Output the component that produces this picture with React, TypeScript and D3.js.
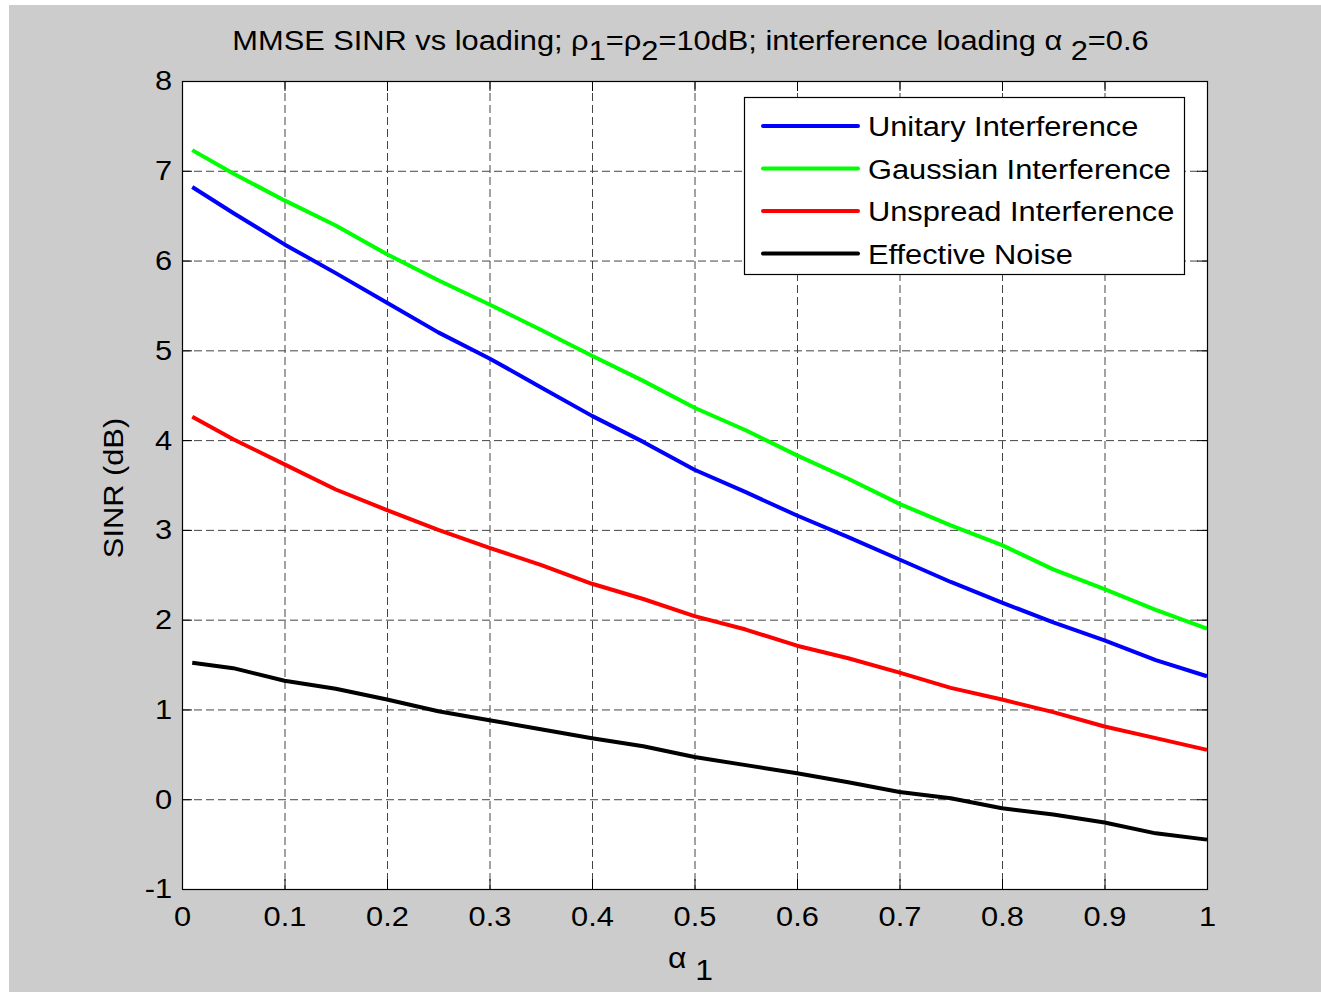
import React, { useEffect, useRef } from 'react';
import * as d3 from 'd3';

// alpha_1 sample points and SINR (dB)
const alpha = [0.01, 0.05, 0.1, 0.15, 0.2, 0.25, 0.3, 0.35, 0.4, 0.45, 0.5, 0.55, 0.6, 0.65, 0.7, 0.75, 0.8, 0.85, 0.9, 0.95, 1.0];
const unitary = [6.82, 6.53, 6.18, 5.86, 5.53, 5.2, 4.91, 4.59, 4.27, 3.98, 3.67, 3.42, 3.16, 2.92, 2.67, 2.42, 2.19, 1.97, 1.77, 1.55, 1.37];
const gaussian = [7.23, 6.97, 6.67, 6.39, 6.07, 5.78, 5.51, 5.23, 4.94, 4.66, 4.36, 4.11, 3.83, 3.57, 3.29, 3.05, 2.83, 2.56, 2.34, 2.11, 1.9];
const unspread = [4.26, 4.01, 3.73, 3.45, 3.22, 3.0, 2.8, 2.61, 2.4, 2.23, 2.04, 1.89, 1.71, 1.57, 1.41, 1.24, 1.11, 0.97, 0.81, 0.68, 0.55];
const noise = [1.52, 1.46, 1.32, 1.23, 1.11, 0.98, 0.88, 0.78, 0.68, 0.59, 0.47, 0.38, 0.29, 0.19, 0.08, 0.01, -0.1, -0.17, -0.26, -0.38, -0.45];

const seriesNames = ['Unitary Interference', 'Gaussian Interference', 'Unspread Interference', 'Effective Noise'];
const seriesColors = ['#0000ff', '#00ff00', '#ff0000', '#000000'];
const seriesValues = [unitary, gaussian, unspread, noise];

const xTicks = [0, 0.1, 0.2, 0.3, 0.4, 0.5, 0.6, 0.7, 0.8, 0.9, 1];
const yTicks = [-1, 0, 1, 2, 3, 4, 5, 6, 7, 8];

const FONT = '"Liberation Sans", Arial, Helvetica, sans-serif';
const SX = 1.1; // the original figure is a bit wider than tall, text included

const Chart = () => {
  const ref = useRef<SVGSVGElement>(null);

  useEffect(() => {
    const W = 1321;
    const H = 993;
    const margin = { top: 81, right: 114, bottom: 104, left: 182 };
    const width = W - margin.left - margin.right;
    const height = H - margin.top - margin.bottom;

    const svg = d3.select(ref.current);
    svg.selectAll('*').remove();

    // figure background
    svg.append('rect').attr('x', 9).attr('y', 5).attr('width', W - 9).attr('height', H - 6).attr('fill', '#cccccc');

    const x = d3.scaleLinear().domain([0, 1]).range([0, width]);
    const y = d3.scaleLinear().domain([-1, 8]).range([height, 0]);

    const g = svg.append('g').attr('transform', `translate(${margin.left},${margin.top})`);

    g.append('rect').attr('width', width).attr('height', height).attr('fill', '#ffffff');

    // grid
    g.append('g')
      .selectAll('line')
      .data(xTicks.slice(1, -1))
      .join('line')
      .attr('x1', d => x(d) + 0.5).attr('x2', d => x(d) + 0.5)
      .attr('y1', 0).attr('y2', height)
      .attr('stroke', '#444').attr('stroke-width', 1).attr('stroke-dasharray', '8,4');
    g.append('g')
      .selectAll('line')
      .data(yTicks.slice(1, -1))
      .join('line')
      .attr('y1', d => y(d) + 0.5).attr('y2', d => y(d) + 0.5)
      .attr('x1', 0).attr('x2', width)
      .attr('stroke', '#444').attr('stroke-width', 1).attr('stroke-dasharray', '8,4');

    // series
    const line = d3.line<number>().x((d, i) => x(alpha[i])).y(d => y(d));
    seriesValues.forEach((vals, i) => {
      g.append('path')
        .datum(vals)
        .attr('fill', 'none')
        .attr('stroke', seriesColors[i])
        .attr('stroke-width', 4)
        .attr('stroke-linejoin', 'round')
        .attr('d', line);
    });

    // axes box and ticks
    g.append('rect').attr('x', 0.5).attr('y', 0.5).attr('width', width).attr('height', height)
      .attr('fill', 'none').attr('stroke', '#000').attr('stroke-width', 1.2);

    const xAxis = g.append('g').attr('transform', `translate(0,${height})`)
      .call(d3.axisBottom(x).tickValues(xTicks).tickSize(-10).tickPadding(17).tickFormat(d => `${d}`));
    const yAxis = g.append('g')
      .call(d3.axisLeft(y).tickValues(yTicks).tickSize(-10).tickPadding(9).tickFormat(d => `${d}`));
    [xAxis, yAxis].forEach(a => {
      a.select('.domain').remove();
      a.selectAll('line').attr('stroke', '#000');
      a.selectAll('text').attr('font-family', FONT).attr('font-size', 28).attr('fill', '#000')
        .attr('transform', `scale(${SX},1)`);
    });
    g.append('g').attr('transform', `translate(${width},0)`)
      .call(d3.axisRight(y).tickValues(yTicks).tickSize(-10).tickFormat(() => ''))
      .call(a => a.select('.domain').remove())
      .selectAll('line').attr('stroke', '#000');
    g.append('g')
      .call(d3.axisTop(x).tickValues(xTicks).tickSize(-10).tickFormat(() => ''))
      .call(a => a.select('.domain').remove())
      .selectAll('line').attr('stroke', '#000');

    // title
    const title = svg.append('text')
      .attr('transform', `translate(${margin.left + width / 2 - 4},50) scale(${SX},1)`)
      .attr('text-anchor', 'middle')
      .attr('font-family', FONT).attr('font-size', 28).attr('fill', '#000');
    const parts: [string, number][] = [
      ['MMSE SINR vs loading; \u03c1', 0], ['1', 10], ['=\u03c1', -10], ['2', 10],
      ['=10dB; interference loading \u03b1 ', -10], ['2', 10], ['=0.6', -10],
    ];
    parts.forEach(([t, dy]) => {
      title.append('tspan').attr('dy', dy).text(t);
    });

    // axis labels
    const xl = svg.append('text')
      .attr('transform', `translate(${margin.left + width / 2 - 4},968) scale(${SX},1)`)
      .attr('text-anchor', 'middle')
      .attr('font-family', FONT).attr('font-size', 29).attr('fill', '#000');
    xl.append('tspan').text('\u03b1 ');
    xl.append('tspan').attr('dy', 12).text('1');

    svg.append('text')
      .attr('transform', `translate(123,${margin.top + height / 2 + 3}) rotate(-90) scale(${SX},1)`)
      .attr('text-anchor', 'middle')
      .attr('font-family', FONT).attr('font-size', 28).attr('fill', '#000')
      .text('SINR (dB)');

    // legend
    const lg = svg.append('g').attr('transform', 'translate(744,97)');
    lg.append('rect').attr('x', 0.5).attr('y', 0.5).attr('width', 440).attr('height', 177)
      .attr('fill', '#fff').attr('stroke', '#000').attr('stroke-width', 1.2);
    seriesNames.forEach((name, i) => {
      const cy = 29 + i * 42.5;
      lg.append('line').attr('x1', 19).attr('x2', 114).attr('y1', cy).attr('y2', cy)
        .attr('stroke', seriesColors[i]).attr('stroke-width', 4).attr('stroke-linecap', 'round');
      lg.append('text').attr('transform', `translate(124,${cy + 10}) scale(${SX},1)`)
        .attr('font-family', FONT).attr('font-size', 28).attr('fill', '#000')
        .text(name);
    });
  }, []);

  return <svg ref={ref} width={1321} height={993} style={{ position: 'absolute', left: 0, top: 0 }} />;
};

export default function App() {
  return <Chart />;
}
